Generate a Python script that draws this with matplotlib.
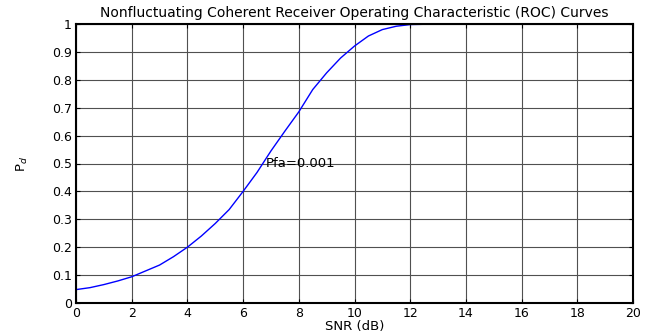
import matplotlib
matplotlib.use("Agg")
import matplotlib.pyplot as plt

snr_db = [0, 0.5, 1, 1.5, 2, 2.5, 3, 3.5, 4, 4.5, 5, 5.5, 6, 6.5, 7, 7.5, 8,
          8.5, 9, 9.5, 10, 10.5, 11, 11.5, 12, 13, 14, 15, 16, 17, 18, 19, 20]
pd_vals = [0.048, 0.055, 0.066, 0.079, 0.094, 0.115, 0.136, 0.166, 0.200,
           0.240, 0.285, 0.335, 0.400, 0.468, 0.545, 0.616, 0.685, 0.765,
           0.825, 0.878, 0.921, 0.957, 0.980, 0.992, 0.998, 1.0, 1.0, 1.0,
           1.0, 1.0, 1.0, 1.0, 1.0]
x_ticks = list(range(0, 21, 2))
y_ticks = [0, 0.1, 0.2, 0.3, 0.4, 0.5, 0.6, 0.7, 0.8, 0.9, 1]
y_tick_labels = ["0", "0.1", "0.2", "0.3", "0.4", "0.5", "0.6", "0.7", "0.8", "0.9", "1"]

plt.rcParams['font.family'] = ['DejaVu Sans']
plt.rcParams['mathtext.fontset'] = 'dejavusans'

fig = plt.figure(figsize=(6.57, 3.34), dpi=100)
ax = fig.add_axes([76/657, 31/334, 557/657, 279/334])

ax.plot(snr_db, pd_vals, color='#0000ff', lw=1.0)
ax.text(6.8, 0.5, "Pfa=0.001", fontsize=9.5, ha='left', va='center')

ax.set_xlim(0, 20)
ax.set_ylim(0, 1)
ax.set_xticks(x_ticks)
ax.set_yticks(y_ticks)
ax.set_yticklabels(y_tick_labels)
ax.grid(True, color='#505050', lw=0.8, ls='-')
ax.tick_params(direction='in', top=True, right=True, length=3, labelsize=9, pad=3)
for s in ax.spines.values():
    s.set_linewidth(1.5)
    s.set_color('black')

ax.set_title("Nonfluctuating Coherent Receiver Operating Characteristic (ROC) Curves",
             fontsize=10, pad=5)
ax.set_xlabel("SNR (dB)", fontsize=9.5, labelpad=0)
ax.set_ylabel("P$_d$", fontsize=9.5, labelpad=16)

fig.savefig("out.png", dpi=100)
